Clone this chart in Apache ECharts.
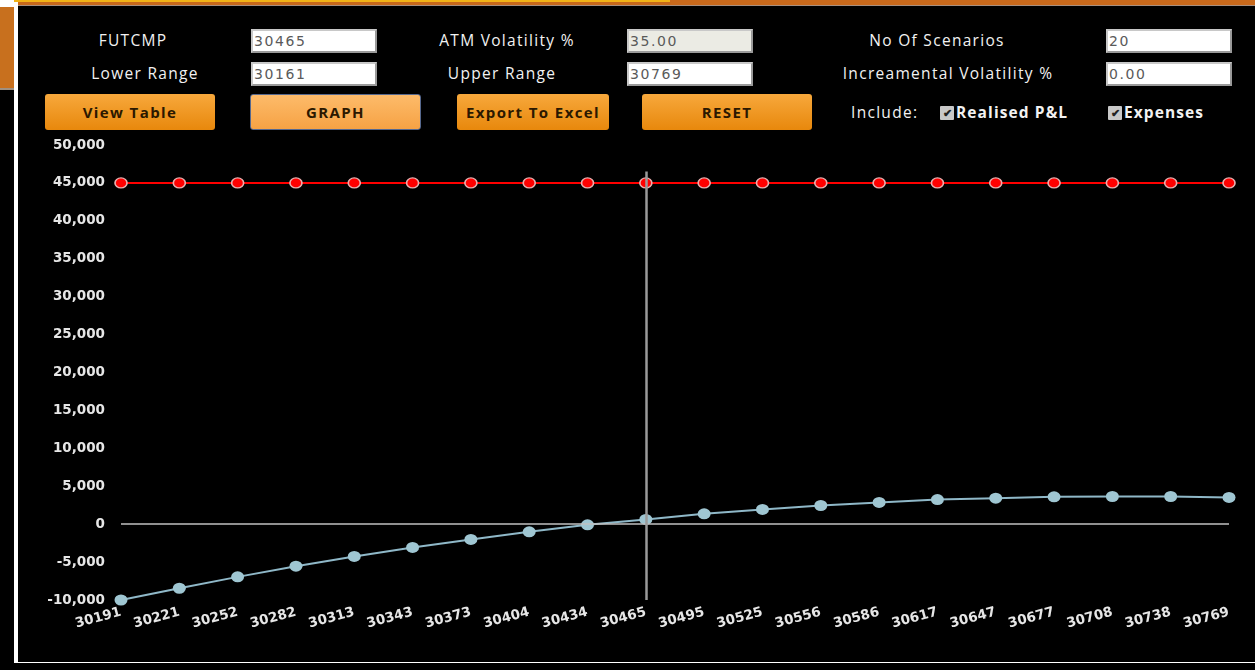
<!DOCTYPE html>
<html>
<head>
<meta charset="utf-8">
<script src="https://cdn.jsdelivr.net/npm/echarts@6/dist/echarts.min.js"></script>
<style>
  html, body { margin: 0; padding: 0; width: 1255px; height: 670px; background: #000; overflow: hidden; }
  .abs { position: absolute; }
  .lbl { position: absolute; color: #f2f2f2; font-family: "Open Sans", sans-serif; font-size: 15.5px; letter-spacing: 1.3px;
         line-height: 20px; text-align: center; white-space: nowrap; }
  .inp { position: absolute; width: 126px; height: 24px; box-sizing: border-box; background: #fff;
         border: 2px solid #9a9a9a; border-top-color: #c8c8c8; border-left-color: #c8c8c8;
         font-family: "DejaVu Sans", sans-serif; font-size: 14px; letter-spacing: 1.6px; color: #5a5a5a; line-height: 20px; padding-left: 1px; }
  .btn { position: absolute; height: 36px; box-sizing: border-box; border-radius: 3px;
         background: linear-gradient(#f7a83c, #e8880c); color: #2b1800;
         font-family: "Open Sans", sans-serif; font-weight: bold; font-size: 15px; letter-spacing: 1.4px; line-height: 36px; text-align: center; }
  .chk { display: inline-block; width: 14px; height: 14px; background: #c8c8c8; color: #222; font-size: 11px; letter-spacing: 0;
         line-height: 14px; text-align: center; vertical-align: 1px; margin-right: 2px; border-radius: 1px; }
  #chart { position: absolute; left: 18px; top: 135px; width: 1237px; height: 527px; }
</style>
</head>
<body>
<!-- frame -->
<div class="abs" style="left:0;top:0;width:1255px;height:5px;background:#c8691c"></div>
<div class="abs" style="left:0;top:0;width:670px;height:2px;background:#f2b318"></div>
<div class="abs" style="left:18px;top:5px;width:1237px;height:1px;background:#a89080"></div>
<div class="abs" style="left:0;top:0;width:14px;height:7px;background:#fff"></div>
<div class="abs" style="left:0;top:7px;width:14px;height:81px;background:#c8701e"></div>
<div class="abs" style="left:0;top:88px;width:14px;height:2px;background:#a09080"></div>
<div class="abs" style="left:14px;top:2px;width:4px;height:661px;background:#fff"></div>
<div class="abs" style="left:14px;top:661px;width:1241px;height:2px;background:#fff"></div>

<!-- form -->
<div class="lbl" style="left:73px;top:30px;width:120px">FUTCMP</div>
<div class="lbl" style="left:75px;top:63px;width:140px">Lower Range</div>
<div class="inp" style="left:251px;top:29px">30465</div>
<div class="inp" style="left:251px;top:62px">30161</div>

<div class="lbl" style="left:417px;top:30px;width:180px">ATM Volatility %</div>
<div class="lbl" style="left:432px;top:63px;width:140px">Upper Range</div>
<div class="inp" style="left:627px;top:29px;background:#ebebe4">35.00</div>
<div class="inp" style="left:627px;top:62px">30769</div>

<div class="lbl" style="left:847px;top:30px;width:180px">No Of Scenarios</div>
<div class="lbl" style="left:823px;top:63px;width:250px">Increamental Volatility %</div>
<div class="inp" style="left:1106px;top:29px">20</div>
<div class="inp" style="left:1106px;top:62px">0.00</div>

<div class="btn" style="left:45px;top:94px;width:170px">View Table</div>
<div class="btn" style="left:250px;top:94px;width:171px;background:linear-gradient(#fdbb6a,#f6a244);border:1px solid #56688e;line-height:34px">GRAPH</div>
<div class="btn" style="left:457px;top:94px;width:152px">Export To Excel</div>
<div class="btn" style="left:642px;top:94px;width:170px">RESET</div>

<div class="lbl" style="left:851px;top:102px;text-align:left">Include:</div>
<div class="lbl" style="left:940px;top:102px;text-align:left;font-weight:bold;letter-spacing:1.1px"><span class="chk">&#10004;</span>Realised P&amp;L</div>
<div class="lbl" style="left:1108px;top:102px;text-align:left;font-weight:bold;letter-spacing:1.1px"><span class="chk">&#10004;</span>Expenses</div>

<div id="chart"></div>

<script>
// scenario prices (x axis)
const prices = ["30191", "30221", "30252", "30282", "30313", "30343", "30373", "30404", "30434", "30465",
                "30495", "30525", "30556", "30586", "30617", "30647", "30677", "30708", "30738", "30769"];
// flat P&L line (red)
const redValues = [45000, 45000, 45000, 45000, 45000, 45000, 45000, 45000, 45000, 45000,
                   45000, 45000, 45000, 45000, 45000, 45000, 45000, 45000, 45000, 45000];
// scenario P&L (blue)
const pnlValues = [-10000, -8450, -6950, -5540, -4260, -3070, -2020, -1010, -90, 620,
                   1360, 1940, 2460, 2860, 3250, 3430, 3600, 3650, 3650, 3520];
const futCmp = "30465";

const chart = echarts.init(document.getElementById("chart"));

const axisFont = { color: "#e6e6e6", fontFamily: "DejaVu Sans, Verdana, sans-serif", fontWeight: "bold", fontSize: 13.5 };

chart.setOption({
  backgroundColor: "#000",
  animation: false,
  grid: { left: 103, right: 26, top: 10, bottom: 62 },
  xAxis: {
    type: "category",
    data: prices,
    boundaryGap: false,
    axisLine: { show: false },
    axisTick: { show: false },
    splitLine: { show: false },
    axisLabel: { ...axisFont, rotate: 15, margin: 12, interval: 0 }
  },
  yAxis: {
    type: "value",
    min: -10000,
    max: 50000,
    interval: 5000,
    axisLine: { show: false },
    axisTick: { show: false },
    splitLine: { show: false },
    axisLabel: {
      ...axisFont,
      margin: 16,
      formatter: (v) => v.toLocaleString("en-US")
    }
  },
  series: [
    {
      name: "Realised",
      type: "line",
      data: redValues,
      symbol: "circle",
      symbolSize: [12, 10],
      lineStyle: { color: "#ff0000", width: 2 },
      itemStyle: { color: "#ff0000", borderColor: "#e8b0b0", borderWidth: 1.5 },
      z: 3
    },
    {
      name: "P&L",
      type: "line",
      data: pnlValues,
      symbol: "circle",
      symbolSize: [13, 11],
      lineStyle: { color: "#8fb8c8", width: 2 },
      itemStyle: { color: "#9fc6d2", borderColor: "#9fc6d2", borderWidth: 0 },
      z: 3,
      markLine: {
        silent: true,
        symbol: "none",
        label: { show: false },
        data: [
          { yAxis: 0, lineStyle: { color: "#c0c0c0", width: 1.5, type: "solid" } },
          [
            { coord: [futCmp, 46500], lineStyle: { color: "#9a9a9a", width: 2.5, type: "solid" } },
            { coord: [futCmp, -10000] }
          ]
        ]
      }
    }
  ]
});
</script>
</body>
</html>
